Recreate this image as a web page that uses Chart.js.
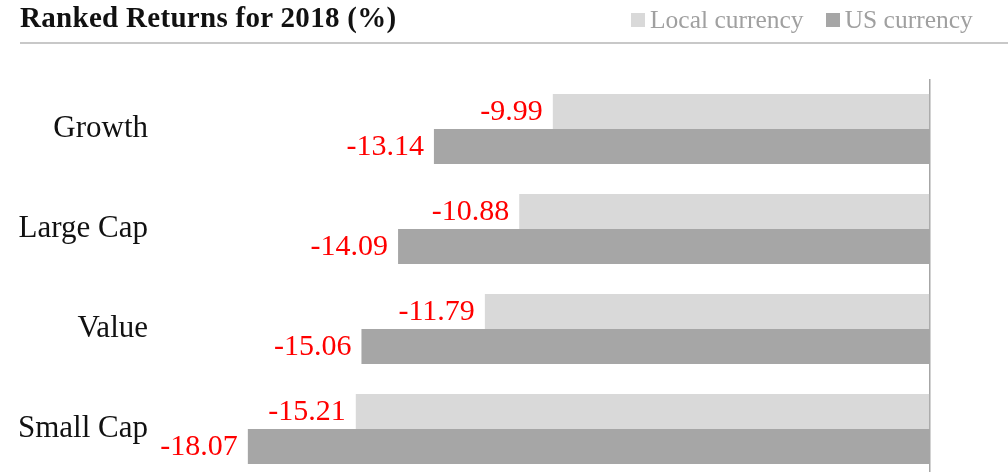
<!DOCTYPE html>
<html>
<head>
<meta charset="utf-8">
<script src="https://cdn.jsdelivr.net/npm/chart.js@4"></script>
<style>
  html, body { margin: 0; padding: 0; background: #fff; overflow: hidden; }
  #wrap { position: relative; width: 1008px; height: 472px; overflow: hidden; font-family: "Liberation Serif", serif; }
  #title { position: absolute; left: 20px; top: 1px; font-size: 29px; font-weight: bold; color: #111; white-space: nowrap; letter-spacing: 0.3px; }
  #legend { position: absolute; left: 631px; top: 5px; font-size: 25.5px; color: #a0a0a0; white-space: nowrap; }
  #legend span.box { display: inline-block; width: 14px; height: 14px; margin-right: 5px; vertical-align: 1px; }
  #legend span.item { margin-right: 22px; }
  #rule { position: absolute; left: 20px; top: 42px; width: 988px; height: 2px; background: #c8c8c8; }
  #c { position: absolute; left: 0; top: 0; }
</style>
</head>
<body>
<div id="wrap">
  <canvas id="c" width="1008" height="480"></canvas>
  <div id="title">Ranked Returns for 2018 (%)</div>
  <div id="legend"></div>
  <div id="rule"></div>
</div>
<script>
// --- DATA ---
const categories = ['Growth', 'Large Cap', 'Value', 'Small Cap'];
const localReturns = [-9.99, -10.88, -11.79, -15.21];
const usReturns = [-13.14, -14.09, -15.06, -18.07];
const seriesNames = ['Local currency', 'US currency'];
const seriesColors = ['#d9d9d9', '#a6a6a6'];

// --- LEGEND (html) ---
const legendEl = document.getElementById('legend');
seriesNames.forEach((name, i) => {
    const item = document.createElement('span');
    item.className = 'item';
    item.innerHTML = `<span class="box" style="background:${seriesColors[i]}"></span>${name}`;
    legendEl.appendChild(item);
});

// --- value labels drawn left of each bar end ---
const valueLabels = {
    id: 'valueLabels',
    afterDatasetsDraw(chart) {
        const ctx = chart.ctx;
        ctx.save();
        ctx.font = '30px "Liberation Serif", serif';
        ctx.fillStyle = '#ff0000';
        ctx.textAlign = 'right';
        ctx.textBaseline = 'middle';
        chart.data.datasets.forEach((ds, di) => {
            const meta = chart.getDatasetMeta(di);
            meta.data.forEach((bar, i) => {
                ctx.fillText(ds.data[i].toFixed(2), bar.x - 10, bar.y + 1);
            });
        });
        ctx.restore();
    }
};

new Chart(document.getElementById('c'), {
    type: 'bar',
    data: {
        labels: categories,
        datasets: [
            { label: seriesNames[0], data: localReturns, backgroundColor: seriesColors[0] },
            { label: seriesNames[1], data: usReturns, backgroundColor: seriesColors[1] }
        ]
    },
    options: {
        indexAxis: 'y',
        responsive: false,
        animation: false,
        layout: { padding: { top: 79, bottom: 1, right: 0, left: 0 } },
        datasets: { bar: { categoryPercentage: 0.7, barPercentage: 1.0 } },
        plugins: {
            legend: { display: false },
            tooltip: { enabled: false }
        },
        scales: {
            x: {
                min: -20,
                max: 2.07,
                ticks: { display: false, stepSize: 5 },
                border: { display: false },
                grid: {
                    drawTicks: false,
                    lineWidth: 1.5,
                    color: (c) => (c.tick && c.tick.value === 0) ? '#a6a6a6' : 'transparent'
                },
                afterFit(scale) { scale.height = 0; scale.paddingLeft = 0; scale.paddingRight = 0; }
            },
            y: {
                border: { display: false },
                grid: { display: false, drawTicks: false },
                ticks: {
                    color: '#111',
                    padding: 27,
                    font: { family: '"Liberation Serif", serif', size: 31 }
                },
                afterFit(scale) {
                    scale.width = 175;
                    scale.paddingTop = 0;
                    scale.paddingBottom = 0;
                }
            }
        }
    },
    plugins: [valueLabels]
});
</script>
</body>
</html>
